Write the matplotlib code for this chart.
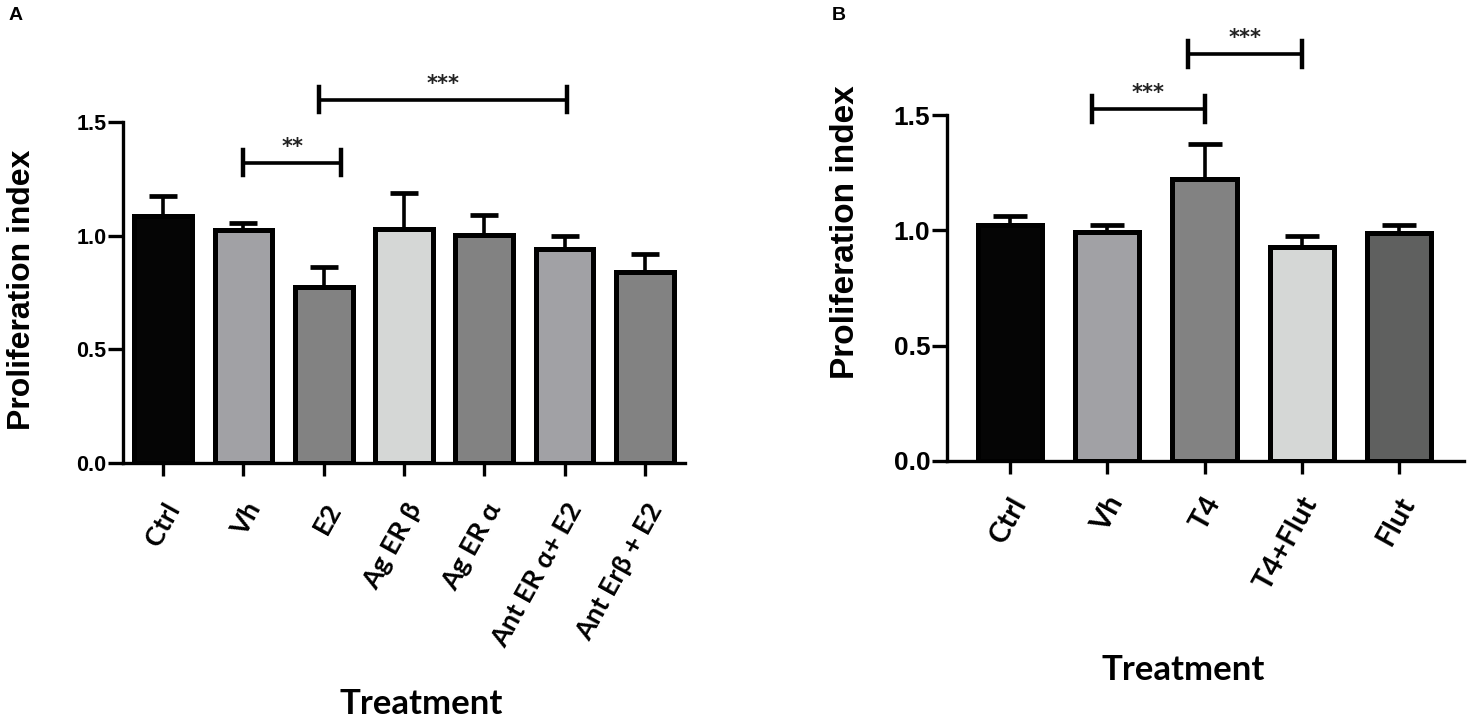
import numpy as np
import matplotlib.pyplot as plt
from matplotlib.transforms import ScaledTranslation

# Panel A: receptores de estrogeno
etiquetas_a = ['Ctrl', 'Vh', 'E2', 'Ag ER β', 'Ag ER α', 'Ant ER α+ E2', 'Ant Erβ + E2']
medias_a = [1.087, 1.025, 0.774, 1.030, 1.003, 0.941, 0.840]
sup_a = [1.175, 1.056, 0.862, 1.188, 1.091, 0.999, 0.920]
colores_a = ['#050505', '#a1a1a5', '#828282', '#d5d7d6', '#828282', '#a1a1a5', '#828282']
# (inicio, fin, altura, texto)
sig_a = [(1.0, 2.22, 1.32, '**'), (1.94, 5.03, 1.597, '***')]

# Panel B: testosterona / flutamida
etiquetas_b = ['Ctrl', 'Vh', 'T4', 'T4+Flut', 'Flut']
medias_b = [1.023, 0.993, 1.222, 0.926, 0.990]
sup_b = [1.062, 1.023, 1.374, 0.975, 1.025]
colores_b = ['#050505', '#a1a1a5', '#828282', '#d5d7d6', '#5f605f']
sig_b = [(0.84, 2.0, 1.526, '***'), (1.83, 3.0, 1.765, '***')]

fuente_num = 'Liberation Sans'
fuente_cat = ['Lato', 'DejaVu Sans']


def dibujar_panel(fig, ax, etiquetas, medias, sup, colores, sig, ancho, xlim,
                  tam_num, tam_cat, cap, desplaz):
    x = np.arange(len(etiquetas))
    medias = np.array(medias)
    err = np.array(sup) - medias
    ax.bar(x, medias, width=ancho, color=colores, edgecolor='black',
           linewidth=3.6, zorder=3)
    ax.errorbar(x, medias, yerr=[np.zeros_like(err), err], fmt='none',
                ecolor='black', elinewidth=2.6, capsize=cap, capthick=3.4, zorder=2)
    ax.set_xlim(*xlim)
    ax.set_ylim(0, 1.5)
    ax.set_yticks([0.0, 0.5, 1.0, 1.5])
    ax.set_yticklabels(['0.0', '0.5', '1.0', '1.5'], fontfamily=fuente_num,
                       fontweight='bold', fontsize=tam_num)
    ax.set_xticks(x)
    ax.set_xticklabels([])
    # etiquetas de categoria a mano, algo abajo y a la derecha del tick
    trans = ax.get_xaxis_transform() + ScaledTranslation(
        desplaz[0] / 72, desplaz[1] / 72, fig.dpi_scale_trans)
    for xi, lab in zip(x, etiquetas):
        ax.text(xi, 0, lab, transform=trans, rotation=61, ha='right', va='center',
                rotation_mode='anchor', fontfamily=fuente_cat, fontweight='bold',
                fontsize=tam_cat, clip_on=False)
    for lado in ['top', 'right']:
        ax.spines[lado].set_visible(False)
    for lado in ['left', 'bottom']:
        ax.spines[lado].set_linewidth(2.4)
    ax.tick_params(axis='y', length=11, width=2.4, pad=1)
    ax.tick_params(axis='x', length=9, width=2.4, pad=6)

    # corchetes de significancia
    for x0, x1, y, txt in sig:
        ax.plot([x0, x1], [y, y], color='black', lw=2.6, clip_on=False)
        for xe in (x0, x1):
            ax.plot([xe, xe], [y - 0.055, y + 0.055], color='black', lw=3.2,
                    clip_on=False)
        ax.text((x0 + x1) / 2, y + 0.025, txt, ha='center', va='bottom',
                fontsize=15, fontweight='bold', color='#222222', clip_on=False)


fig = plt.figure(figsize=(14.69, 7.26), dpi=100)

ax_a = fig.add_axes([123 / 1469, 1 - 463 / 726, (685 - 123) / 1469, (463 - 122) / 726])
dibujar_panel(fig, ax_a, etiquetas_a, medias_a, sup_a, colores_a, sig_a,
              0.72, (-0.5, 6.5), 15.5, 19.5, 10, (8, -30))

ax_b = fig.add_axes([947 / 1469, 1 - 461 / 726, (1464 - 947) / 1469, (461 - 115) / 726])
dibujar_panel(fig, ax_b, etiquetas_b, medias_b, sup_b, colores_b, sig_b,
              0.66, (-0.65, 4.67), 19, 21, 12, (7, -27))

# ejes y etiquetas
fig.text(22 / 1469, 1 - 290 / 726, 'Proliferation index', rotation=90,
         ha='center', va='center', fontfamily=fuente_num, fontweight='bold', fontsize=23)
fig.text(845 / 1469, 1 - 232 / 726, 'Proliferation index', rotation=90,
         ha='center', va='center', fontfamily=fuente_num, fontweight='bold', fontsize=24)
fig.text(421 / 1469, 1 - 704 / 726, 'Treatment', ha='center', va='center',
         fontfamily=fuente_cat, fontweight='bold', fontsize=25)
fig.text(1183 / 1469, 1 - 670 / 726, 'Treatment', ha='center', va='center',
         fontfamily=fuente_cat, fontweight='bold', fontsize=25)

fig.text(9 / 1469, 1 - 16 / 726, 'A', ha='left', va='center',
         fontfamily=fuente_num, fontweight='bold', fontsize=14)
fig.text(832 / 1469, 1 - 16 / 726, 'B', ha='left', va='center',
         fontfamily=fuente_num, fontweight='bold', fontsize=14)

fig.savefig('out.png', dpi=100)
